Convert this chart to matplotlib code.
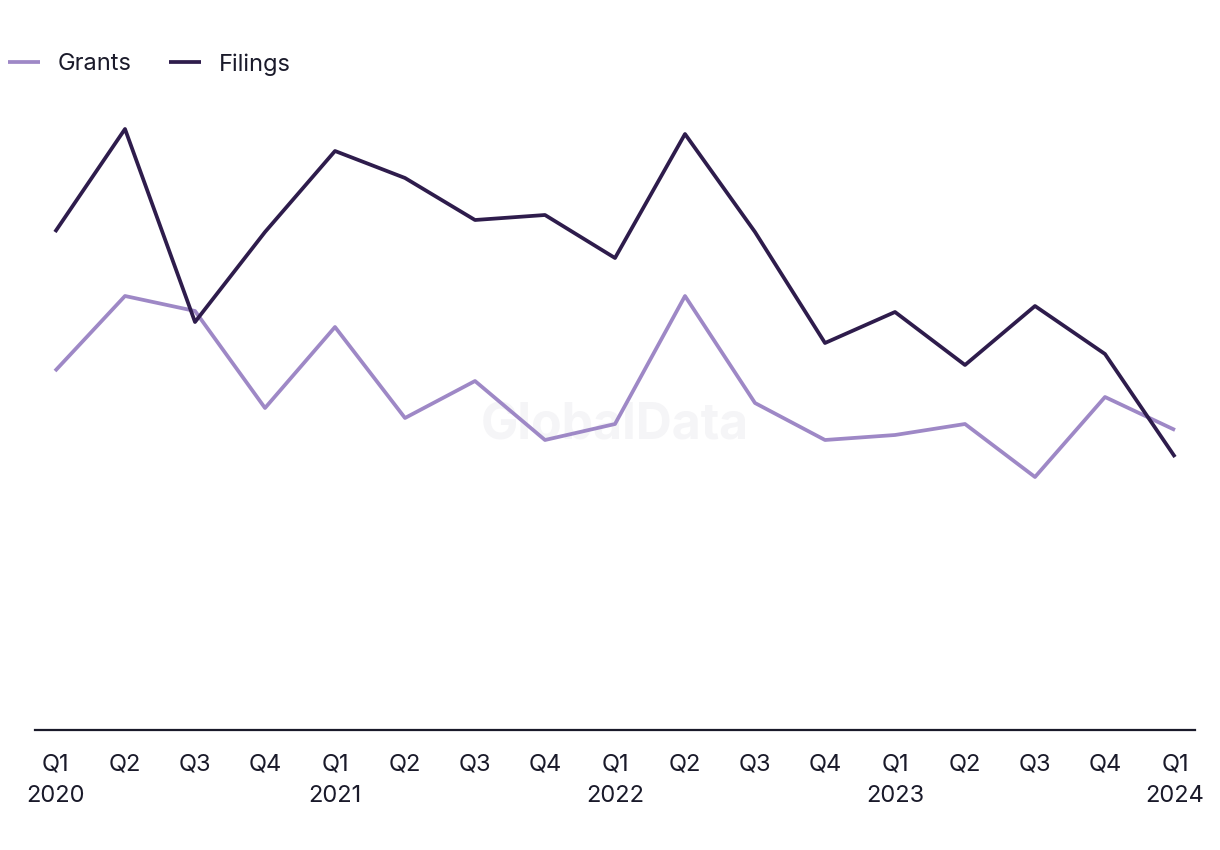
import matplotlib.pyplot as plt

quarters = ["Q1\n2020", "Q2", "Q3", "Q4", "Q1\n2021", "Q2", "Q3", "Q4",
            "Q1\n2022", "Q2", "Q3", "Q4", "Q1\n2023", "Q2", "Q3", "Q4", "Q1\n2024"]
filings = [498, 601, 408, 498, 579, 552, 510, 515, 472, 596, 498, 387, 418, 365, 424, 376, 273]
grants = [359, 434, 419, 322, 403, 312, 349, 290, 306, 434, 327, 290, 295, 306, 253, 333, 300]

plt.rcParams['font.family'] = ['Inter', 'DejaVu Sans']

fig = plt.figure(figsize=(12.2, 8.5), dpi=100)
ax = fig.add_axes([35 / 1220, 120 / 850, 1160 / 1220, 700 / 850])

x = range(len(quarters))
ax.plot(x, grants, color='#9e88c6', linewidth=2.7, label='Grants', solid_capstyle='butt')
ax.plot(x, filings, color='#2e1c4c', linewidth=2.7, label='Filings', solid_capstyle='butt')

ax.set_xlim(-20 / 70, 16 + 20 / 70)
ax.set_ylim(0, 700)

# Filigrane
ax.text(0.5, 0.435, "GlobalData", transform=ax.transAxes, ha='center', va='center',
        fontsize=36, fontweight='bold', color='#f5f5f7', zorder=0)

for s in ['top', 'right', 'left']:
    ax.spines[s].set_visible(False)
ax.spines['bottom'].set_color('#1a1a2a')
ax.spines['bottom'].set_linewidth(1.6)
ax.set_yticks([])
ax.set_xticks(list(x))
ax.set_xticklabels(quarters, fontsize=17, color='#1a1a2a', linespacing=1.55)
ax.tick_params(axis='x', length=0, pad=17)

leg = ax.legend(loc='upper left', bbox_to_anchor=(8 / 1220, 1 - 53 / 850),
                bbox_transform=fig.transFigure, ncol=2, frameon=False, fontsize=17,
                handlelength=1.35, handletextpad=0.75, columnspacing=1.6,
                borderaxespad=0, borderpad=0)
for t in leg.get_texts():
    t.set_color('#1a1a2a')

fig.savefig('out.png', dpi=100, facecolor='white')
